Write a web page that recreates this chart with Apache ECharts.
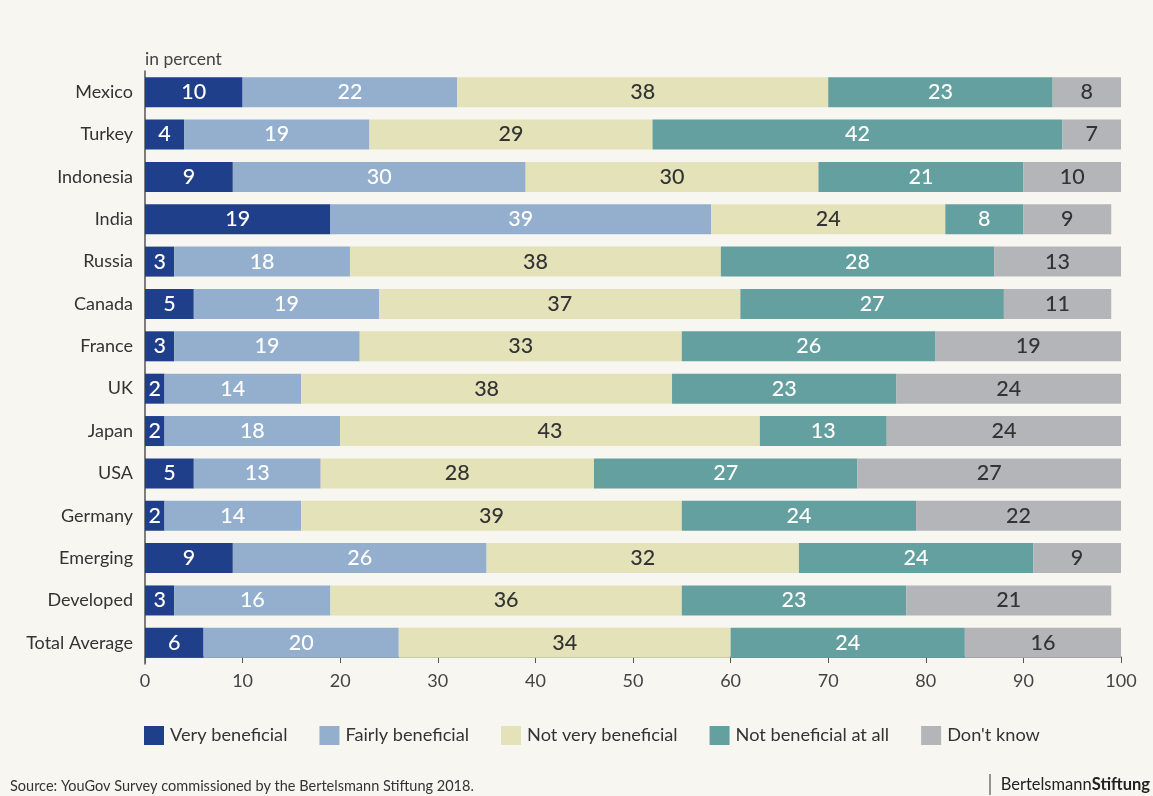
<!DOCTYPE html>
<html>
<head>
<meta charset="utf-8">
<script src="https://cdn.jsdelivr.net/npm/echarts@6/dist/echarts.min.js"></script>
<style>
  html, body { margin: 0; padding: 0; background: #f7f6f0; }
  #chart { width: 1153px; height: 796px; }
</style>
</head>
<body>
<div id="chart"></div>
<script>
// Survey: how beneficial is ... (shares in percent per country)
const countries = ['Mexico', 'Turkey', 'Indonesia', 'India', 'Russia', 'Canada', 'France',
  'UK', 'Japan', 'USA', 'Germany', 'Emerging', 'Developed', 'Total Average'];
const veryBeneficial     = [10, 4, 9, 19, 3, 5, 3, 2, 2, 5, 2, 9, 3, 6];
const fairlyBeneficial   = [22, 19, 30, 39, 18, 19, 19, 14, 18, 13, 14, 26, 16, 20];
const notVeryBeneficial  = [38, 29, 30, 24, 38, 37, 33, 38, 43, 28, 39, 32, 36, 34];
const notBeneficialAtAll = [23, 42, 21, 8, 28, 27, 26, 23, 13, 27, 24, 24, 23, 24];
const dontKnow           = [8, 7, 10, 9, 13, 11, 19, 24, 24, 27, 22, 9, 21, 16];
const seriesNames = ['Very beneficial', 'Fairly beneficial', 'Not very beneficial',
  'Not beneficial at all', "Don't know"];

const FONT = 'Lato, "Open Sans", sans-serif';
const colors = ['#1f3f8a', '#93afcd', '#e4e2b9', '#64a09f', '#b3b5b9'];
const labelColors = ['#ffffff', '#ffffff', '#333333', '#ffffff', '#333333'];
const values = [veryBeneficial, fairlyBeneficial, notVeryBeneficial, notBeneficialAtAll, dontKnow];

const series = seriesNames.map((name, i) => ({
  name,
  type: 'bar',
  stack: 'total',
  barWidth: 30,
  data: values[i],
  itemStyle: { color: colors[i] },
  label: {
    show: true,
    position: 'inside',
    fontFamily: FONT,
    fontSize: 21.5,
    fontWeight: 500,
    color: labelColors[i]
  }
}));

const chart = echarts.init(document.getElementById('chart'));
chart.setOption({
  backgroundColor: '#f7f6f0',
  animation: false,
  color: colors,
  textStyle: { fontFamily: FONT },
  grid: { left: 145, right: 32, top: 71, bottom: 132, containLabel: false },
  legend: {
    left: 139,
    top: 721,
    itemWidth: 20,
    itemHeight: 19,
    itemGap: 32,
    icon: 'rect',
    textStyle: { fontFamily: FONT, fontSize: 18.2, color: '#333', padding: [0, 0, 0, 1] },
    data: seriesNames
  },
  xAxis: {
    type: 'value',
    min: 0,
    max: 100,
    interval: 10,
    offset: -7,
    splitLine: { show: false },
    axisLine: { show: true, lineStyle: { color: '#555', width: 1.5 } },
    axisTick: { show: true, length: 6, lineStyle: { color: '#555' } },
    axisLabel: { fontFamily: FONT, fontSize: 18, color: '#444', margin: 15 }
  },
  yAxis: {
    type: 'category',
    inverse: true,
    data: countries,
    axisLine: { show: true, lineStyle: { color: '#555', width: 1.5 } },
    axisTick: { show: false },
    axisLabel: { fontFamily: FONT, fontSize: 18, color: '#333', margin: 12 }
  },
  graphic: [
    { type: 'text', left: 145, top: 50,
      style: { text: 'in percent', fontFamily: FONT, fontSize: 17.5, fill: '#444' } },
    { type: 'text', left: 10, top: 779,
      style: { text: 'Source: YouGov Survey commissioned by the Bertelsmann Stiftung 2018.',
        fontFamily: FONT, fontSize: 14.5, fill: '#333' } },
    { type: 'line', shape: { x1: 990, y1: 774, x2: 990, y2: 795 },
      style: { stroke: '#333', lineWidth: 1 } },
    { type: 'text', right: 3, top: 776,
      style: {
        text: '{a|Bertelsmann}{b|Stiftung}',
        rich: {
          a: { fontFamily: FONT, fontSize: 16.5, fill: '#222', color: '#222' },
          b: { fontFamily: FONT, fontSize: 16.5, fontWeight: 'bold', fill: '#222', color: '#222' }
        }
      } }
  ],
  series
});
</script>
</body>
</html>
